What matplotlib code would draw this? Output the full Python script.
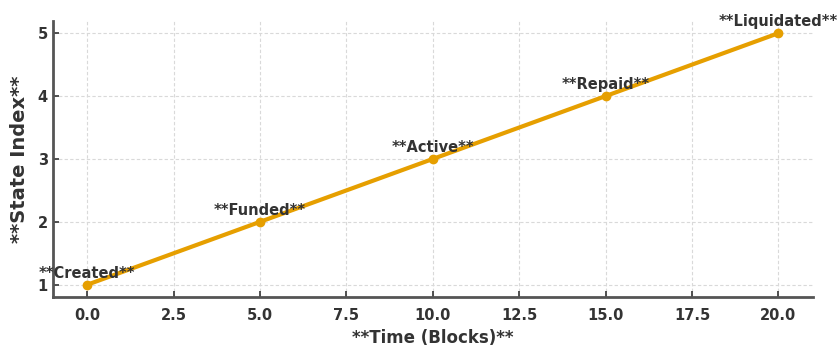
import matplotlib.pyplot as plt

# Loan lifecycle states over time
time_blocks = [0, 5, 10, 15, 20]
state_index = [1, 2, 3, 4, 5]
state_labels = ["**Created**", "**Funded**", "**Active**", "**Repaid**", "**Liquidated**"]

line_color = "#E69F00"
text_color = "#333333"

fig, ax = plt.subplots(figsize=(8.38, 3.56), dpi=100)
fig.subplots_adjust(left=0.063, right=0.970, top=0.942, bottom=0.165)

ax.plot(time_blocks, state_index, color=line_color, linewidth=3, marker="o", markersize=6)

for t, s, lbl in zip(time_blocks, state_index, state_labels):
    ax.annotate(lbl, (t, s), xytext=(0, 3), textcoords="offset points",
                ha="center", va="bottom", fontsize=10.5, fontweight="bold", color=text_color)

ax.set_xlabel("**Time (Blocks)**", fontsize=12, fontweight="bold", color=text_color)
ax.set_ylabel("**State Index**", fontsize=14, fontweight="bold", color=text_color, labelpad=6)

ax.grid(True, linestyle=(0, (3, 2)), color="#d9d9d9", linewidth=0.8)
ax.set_axisbelow(True)
ax.set_yticks([1, 2, 3, 4, 5])
ax.tick_params(direction="in", length=4, width=1.2, colors=text_color, labelsize=10.5)
for lbl in ax.get_xticklabels() + ax.get_yticklabels():
    lbl.set_fontweight("bold")
ax.tick_params(axis="x", pad=8)

for side in ["top", "right"]:
    ax.spines[side].set_visible(False)
for side in ["left", "bottom"]:
    ax.spines[side].set_color("#555555")
    ax.spines[side].set_linewidth(2)

plt.savefig("out.png", dpi=100)
